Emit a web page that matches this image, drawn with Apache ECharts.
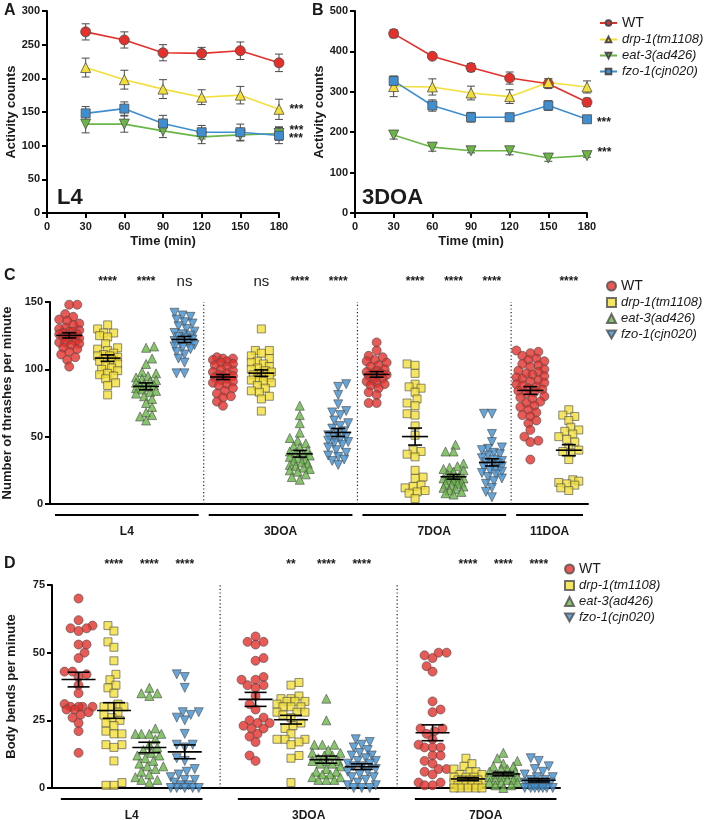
<!DOCTYPE html>
<html>
<head>
<meta charset="utf-8">
<script src="https://cdn.jsdelivr.net/npm/echarts@6.0.0/dist/echarts.min.js"></script>
<style>
  html, body { margin: 0; padding: 0; background: #fff; }
  #chart { width: 708px; height: 820px; }
</style>
</head>
<body>
<div id="chart"></div>
<script>
// ---------- data ----------
const strains = ['WT', 'drp-1(tm1108)', 'eat-3(ad426)', 'fzo-1(cjn020)']
const timeMin = [30, 60, 90, 120, 150, 180]

// A: L4 activity counts (mean, SEM)
const l4Wt = [269, 257, 238, 237, 241, 223]
const l4WtErr = [12, 12, 12, 9, 13, 13]
const l4Drp = [216, 198, 184, 172, 175, 154]
const l4DrpErr = [14, 14, 14, 11, 13, 15]
const l4Eat = [132, 132, 122, 113, 116, 118]
const l4EatErr = [13, 12, 10, 10, 9, 10]
const l4Fzo = [148, 155, 133, 120, 120, 115]
const l4FzoErr = [10, 10, 12, 10, 12, 12]
const l4Stars = ['', '***', '***', '***']

// B: 3DOA activity counts (mean, SEM)
const d3Wt = [444, 388, 360, 334, 320, 274]
const d3WtErr = [10, 6, 10, 15, 12, 10]
const d3Drp = [313, 312, 297, 288, 323, 312]
const d3DrpErr = [25, 20, 17, 17, 9, 15]
const d3Eat = [193, 163, 154, 154, 136, 142]
const d3EatErr = [10, 10, 5, 10, 8, 4]
const d3Fzo = [327, 266, 237, 237, 266, 232]
const d3FzoErr = [12, 14, 12, 10, 12, 5]
const d3Stars = ['', '', '***', '***']

// C: thrashes per minute
const thrL4Wt = [148, 148, 141, 139, 137, 136, 134, 133, 131, 130, 129, 128, 128, 127, 126, 126, 125, 125, 124, 123, 122, 121, 120, 120, 119, 118, 116, 115, 113, 111, 109, 107, 102]
const thrL4Drp = [133, 130, 127, 127, 125, 124, 119, 116, 115, 114, 112, 111, 110, 110, 109, 108, 107, 106, 104, 103, 101, 100, 99, 97, 96, 95, 93, 90, 88, 81]
const thrL4Eat = [117, 116, 108, 104, 98, 97, 95, 94, 93, 92, 91, 90, 89, 88, 88, 87, 86, 85, 84, 83, 82, 80, 78, 75, 72, 68, 66, 65, 62]
const thrL4Fzo = [142, 140, 139, 137, 135, 134, 132, 130, 128, 127, 126, 125, 124, 123, 122, 121, 120, 119, 118, 117, 116, 115, 113, 111, 108, 105, 97, 97]
const thr3Wt = [109, 108, 108, 107, 106, 105, 104, 103, 102, 100, 99, 98, 97, 96, 95, 95, 94, 93, 92, 91, 90, 89, 88, 86, 84, 82, 80, 79, 76, 73]
const thr3Drp = [130, 114, 114, 112, 110, 108, 106, 105, 104, 102, 101, 100, 99, 98, 97, 96, 95, 94, 93, 92, 91, 90, 88, 86, 84, 83, 80, 78, 69]
const thr3Eat = [73, 66, 60, 53, 49, 47, 45, 43, 42, 40, 39, 38, 37, 36, 35, 34, 33, 32, 31, 30, 29, 28, 27, 26, 25, 24, 22, 20, 18]
const thr3Fzo = [89, 87, 81, 74, 69, 68, 66, 62, 60, 58, 56, 54, 52, 51, 50, 49, 48, 47, 46, 45, 44, 42, 40, 38, 36, 35, 33, 32, 29]
const thr7Wt = [120, 114, 110, 109, 107, 106, 105, 103, 102, 100, 99, 98, 97, 97, 96, 95, 94, 93, 92, 91, 90, 89, 88, 86, 83, 81, 75, 75]
const thr7Drp = [104, 103, 97, 89, 87, 86, 83, 78, 75, 73, 67, 66, 58, 51, 40, 39, 37, 35, 25, 20, 19, 14, 13, 12, 10, 9, 8, 4]
const thr7Eat = [44, 39, 39, 30, 28, 27, 26, 25, 24, 22, 21, 20, 20, 19, 19, 18, 18, 17, 16, 15, 15, 14, 13, 12, 11, 10, 9, 8, 7]
const thr7Fzo = [67, 67, 52, 46, 42, 41, 40, 38, 37, 36, 34, 33, 32, 31, 30, 29, 28, 27, 26, 25, 24, 23, 22, 20, 19, 17, 15, 12, 9, 5]
const thr11Wt = [114, 113, 112, 110, 108, 107, 106, 104, 103, 102, 100, 99, 98, 97, 96, 95, 94, 93, 92, 91, 90, 89, 88, 87, 86, 85, 84, 83, 82, 80, 79, 78, 76, 75, 73, 72, 70, 68, 66, 65, 62, 60, 55, 50, 47, 46, 33]
const thr11Drp = [70, 66, 65, 62, 57, 55, 54, 52, 50, 48, 46, 42, 40, 39, 38, 33, 18, 17, 16, 15, 14, 12, 10]
const thrStages = ['L4', '3DOA', '7DOA', '11DOA']
const thrStars = ['', '****', '****', 'ns', '', 'ns', '****', '****', '', '****', '****', '****', '', '****']

// D: body bends per minute
const bendL4Wt = [70, 62, 60, 59, 59, 58, 53, 53, 50, 48, 43, 43, 42, 41, 38, 35, 31, 30, 30, 30, 30, 29, 29, 28, 27, 26, 24, 21, 13]
const bendL4Drp = [60, 58, 54, 52, 47, 42, 40, 38, 37, 35, 31, 30, 30, 30, 28, 27, 26, 25, 24, 23, 21, 20, 20, 16, 16, 15, 10, 2, 1, 1]
const bendL4Eat = [37, 35, 35, 34, 22, 20, 20, 20, 20, 18, 16, 15, 14, 13, 12, 12, 11, 10, 9, 8, 8, 7, 6, 5, 4, 3, 3, 2]
const bendL4Fzo = [42, 41, 37, 28, 28, 27, 26, 25, 20, 16, 16, 15, 11, 10, 7, 6, 5, 4, 3, 3, 2, 1, 1, 0, 0, 0, 0, 0]
const bend3Wt = [56, 54, 54, 53, 48, 47, 41, 40, 40, 38, 38, 37, 34, 31, 29, 26, 25, 24, 24, 23, 22, 22, 20, 19, 17, 12, 10]
const bend3Drp = [39, 38, 34, 33, 33, 32, 32, 32, 31, 30, 30, 30, 28, 28, 28, 27, 26, 24, 23, 22, 20, 18, 18, 18, 17, 16, 12, 11, 2]
const bend3Eat = [33, 25, 16, 16, 16, 14, 13, 13, 12, 12, 11, 10, 10, 10, 9, 9, 8, 7, 6, 6, 5, 5, 4, 4, 3, 3, 3]
const bend3Fzo = [18, 17, 16, 15, 14, 13, 12, 12, 11, 10, 10, 9, 9, 8, 8, 7, 6, 6, 5, 4, 4, 3, 2, 1, 1, 0, 0, 0]
const bend7Wt = [50, 50, 49, 48, 45, 43, 32, 29, 28, 22, 22, 21, 20, 18, 16, 15, 15, 15, 12, 12, 10, 9, 7, 7, 6, 5, 2, 2, 1, 1]
const bend7Drp = [11, 9, 8, 7, 6, 6, 5, 5, 4, 4, 4, 3, 3, 3, 3, 2, 2, 2, 2, 1, 1, 1, 1, 0, 0, 0, 0, 0]
const bend7Eat = [13, 11, 10, 9, 8, 8, 7, 7, 6, 6, 5, 5, 5, 4, 4, 4, 3, 3, 3, 2, 2, 2, 1, 1, 0]
const bend7Fzo = [11, 10, 8, 7, 6, 5, 4, 4, 3, 3, 2, 2, 2, 2, 1, 1, 1, 1, 1, 0, 0, 0, 0, 0, 0, 0]
const bendStages = ['L4', '3DOA', '7DOA']
const bendStars = ['', '****', '****', '****', '', '**', '****', '****', '', '****', '****', '****']

// ---------- styles ----------
const FONT = 'Liberation Sans, Arial, Helvetica, sans-serif'
const INK = '#1a1a1a'
const colors = ['#e4302a', '#f3df38', '#69b646', '#3f8ecf']
const edge = '#4d4d4d'
const downTri = 'path://M0,0 L10,0 L5,9 Z'
const lineSymbols = ['circle', 'triangle', downTri, 'rect']
const dotSymbols = ['circle', 'rect', 'triangle', downTri]

const gA = { left: 47, top: 11, width: 232, height: 202 }
const gB = { left: 355, top: 11, width: 232, height: 202 }
const gC = { left: 50, top: 302, width: 538, height: 202 }
const gD = { left: 52, top: 585, width: 508, height: 203 }
const cRange = [-0.5, 13.5]
const dRange = [-0.75, 13.6]

// ---------- helpers ----------
const mean = a => a.reduce((s, v) => s + v, 0) / a.length
const sem = a => {
  const m = mean(a)
  const sd = Math.sqrt(a.reduce((s, v) => s + (v - m) * (v - m), 0) / (a.length - 1))
  return sd / Math.sqrt(a.length)
}

// simple beeswarm: offsets in px, converted to x-axis units
function swarm (vals, pxY, pxX, dia, maxK) {
  const order = vals.map((v, i) => i).sort((a, b) => vals[a] - vals[b])
  const placed = []
  const xs = new Array(vals.length)
  const step = 2
  order.forEach((i, n) => {
    const y = vals[i] * pxY
    let bestX = 0
    let bestGap = -1
    let done = false
    for (let k = 0; k <= maxK && !done; k++) {
      let cands = k === 0 ? [0] : [k * step, -k * step]
      if (n % 2) cands = cands.reverse()
      for (const c of cands) {
        let gap = Infinity
        placed.forEach(p => { gap = Math.min(gap, Math.hypot(p[0] - c, p[1] - y)) })
        if (gap >= dia) { bestX = c; done = true; break }
        if (gap > bestGap) { bestGap = gap; bestX = c }
      }
    }
    placed.push([bestX, y])
    xs[i] = bestX / pxX
  })
  return xs
}

const axisLine = { show: true, onZero: false, lineStyle: { color: '#000', width: 2 } }
const axisTick = { show: true, length: 5, lineStyle: { color: '#000', width: 2 } }
const tickLabel = { color: INK, fontWeight: 'bold', fontSize: 11, fontFamily: FONT }
const nameStyle = { color: INK, fontWeight: 'bold', fontSize: 13, fontFamily: FONT }

function yAxisOf (grid, max, interval, name, gap) {
  return {
    type: 'value', gridIndex: grid, min: 0, max: max, interval: interval,
    name: name, nameLocation: 'middle', nameGap: gap, nameTextStyle: nameStyle,
    axisLine: axisLine, axisTick: axisTick, axisLabel: Object.assign({ margin: 7 }, tickLabel),
    splitLine: { show: false }
  }
}

// ---------- A / B : line series with error bars ----------
function timeSeries (means, errs, stars, grid, tag) {
  const out = []
  const errData = []
  means.forEach((m, k) => {
    m.forEach((v, i) => errData.push([timeMin[i], v - errs[k][i], v + errs[k][i]]))
  })
  out.push({
    type: 'custom', xAxisIndex: grid, yAxisIndex: grid, silent: true, z: 2,
    data: errData,
    renderItem: (params, api) => {
      const top = api.coord([api.value(0), api.value(2)])
      const bot = api.coord([api.value(0), api.value(1)])
      const st = { stroke: '#4a4a4a', lineWidth: 1 }
      return {
        type: 'group',
        children: [
          { type: 'line', shape: { x1: top[0], y1: top[1], x2: bot[0], y2: bot[1] }, style: st },
          { type: 'line', shape: { x1: top[0] - 4, y1: top[1], x2: top[0] + 4, y2: top[1] }, style: st },
          { type: 'line', shape: { x1: bot[0] - 4, y1: bot[1], x2: bot[0] + 4, y2: bot[1] }, style: st }
        ]
      }
    }
  })
  means.forEach((m, k) => {
    const offs = [[0, 0], [0, 0], [0, -3], [0, 3]]
    out.push({
      name: strains[k] + tag, type: 'line', xAxisIndex: grid, yAxisIndex: grid, z: 3,
      data: m.map((v, i) => [timeMin[i], v]),
      symbol: lineSymbols[k], symbolSize: k === 3 ? 9 : 10, showAllSymbol: true,
      lineStyle: { color: colors[k], width: 1.6 },
      itemStyle: { color: colors[k], borderColor: edge, borderWidth: 0.8 },
      label: {
        show: true, position: 'right', distance: 5, offset: offs[k],
        color: INK, fontSize: 12, fontWeight: 'bold', fontFamily: FONT,
        formatter: p => (p.dataIndex === m.length - 1 ? stars[k] : '')
      },
      emphasis: { disabled: true }
    })
  })
  return out
}

// ---------- C / D : dot plots ----------
function dotPanel (groups, strainOf, slots, stages, stageSizes, stars, grid, tag, g, range, yMax, starY, pad, halfW, capW, spread) {
  const pxY = g.height / yMax
  const pxX = g.width / (range[1] - range[0])
  const out = []
  const dots = strains.map((s, k) => ({
    name: s + tag, type: 'scatter', xAxisIndex: grid, yAxisIndex: grid, z: 3,
    symbol: dotSymbols[k], symbolSize: k === 1 ? 8 : 9,
    itemStyle: { color: colors[k], borderColor: edge, borderWidth: 0.8 },
    emphasis: { disabled: true },
    data: []
  }))
  groups.forEach((vals, gi) => {
    const dx = swarm(vals, pxY, pxX, 7, vals.length > 40 ? spread + 2 : spread)
    vals.forEach((v, i) => dots[strainOf[gi]].data.push([slots[gi] + dx[i], v]))
  })
  // dotted dividers between stages
  const bounds = []
  const spans = []
  let start = 0
  stageSizes.forEach((n, si) => {
    spans.push([slots[start], slots[start + n - 1]])
    if (si > 0) bounds.push([(slots[start - 1] + slots[start]) / 2])
    start += n
  })
  out.push({
    type: 'custom', xAxisIndex: grid, yAxisIndex: grid, silent: true, z: 1,
    data: bounds,
    renderItem: (params, api) => {
      const a = api.coord([api.value(0), 0])
      const b = api.coord([api.value(0), yMax])
      return { type: 'line', shape: { x1: a[0], y1: a[1], x2: b[0], y2: b[1] },
        style: { stroke: '#222', lineWidth: 1.2, lineDash: [1.2, 2.4] } }
    }
  })
  out.push(...dots)
  // mean +/- SEM
  out.push({
    type: 'custom', xAxisIndex: grid, yAxisIndex: grid, silent: true, z: 4,
    data: groups.map((vals, gi) => [slots[gi], mean(vals), sem(vals)]),
    renderItem: (params, api) => {
      const x = api.value(0); const m = api.value(1); const e = api.value(2)
      const pm = api.coord([x, m]); const pt = api.coord([x, m + e]); const pb = api.coord([x, m - e])
      const st = { stroke: '#000', lineWidth: 1.6 }
      return {
        type: 'group',
        children: [
          { type: 'line', shape: { x1: pm[0] - halfW, y1: pm[1], x2: pm[0] + halfW, y2: pm[1] }, style: st },
          { type: 'line', shape: { x1: pt[0], y1: pt[1], x2: pb[0], y2: pb[1] }, style: st },
          { type: 'line', shape: { x1: pt[0] - capW, y1: pt[1], x2: pt[0] + capW, y2: pt[1] }, style: st },
          { type: 'line', shape: { x1: pb[0] - capW, y1: pb[1], x2: pb[0] + capW, y2: pb[1] }, style: st }
        ]
      }
    }
  })
  // significance marks above each column
  out.push({
    type: 'custom', xAxisIndex: grid, yAxisIndex: grid, silent: true, z: 4,
    data: slots.map(s => [s, starY]),
    renderItem: (params, api) => {
      const p = api.coord([api.value(0), api.value(1)])
      const txt = stars[params.dataIndex]
      return { type: 'text', x: p[0], y: p[1],
        style: { text: txt, align: 'center', verticalAlign: 'middle', fill: INK,
          fontSize: txt === 'ns' ? 15 : 12, fontWeight: txt === 'ns' ? 'normal' : 'bold', fontFamily: FONT } }
    }
  })
  // stage bars + labels under the axis
  out.push({
    type: 'custom', xAxisIndex: grid, yAxisIndex: grid, silent: true, z: 4,
    data: spans,
    renderItem: (params, api) => {
      const a = api.coord([api.value(0) - pad, 0])
      const b = api.coord([api.value(1) + pad, 0])
      return {
        type: 'group',
        children: [
          { type: 'line', shape: { x1: a[0], y1: a[1] + 11, x2: b[0], y2: b[1] + 11 }, style: { stroke: '#000', lineWidth: 2 } },
          { type: 'text', x: (a[0] + b[0]) / 2, y: a[1] + 28,
            style: { text: stages[params.dataIndex], align: 'center', verticalAlign: 'middle', fill: INK,
              fontSize: 12, fontWeight: 'bold', fontFamily: FONT } }
        ]
      }
    }
  })
  return out
}

const thrGroups = [thrL4Wt, thrL4Drp, thrL4Eat, thrL4Fzo, thr3Wt, thr3Drp, thr3Eat, thr3Fzo, thr7Wt, thr7Drp, thr7Eat, thr7Fzo, thr11Wt, thr11Drp]
const thrStrain = [0, 1, 2, 3, 0, 1, 2, 3, 0, 1, 2, 3, 0, 1]
const thrSlots = thrGroups.map((g, i) => i)
const bendGroups = [bendL4Wt, bendL4Drp, bendL4Eat, bendL4Fzo, bend3Wt, bend3Drp, bend3Eat, bend3Fzo, bend7Wt, bend7Drp, bend7Eat, bend7Fzo]
const bendStrain = [0, 1, 2, 3, 0, 1, 2, 3, 0, 1, 2, 3]
const bendSlots = [0, 1, 2, 3, 5, 6, 7, 8, 10, 11, 12, 13]

const legendName = n => {
  const s = n.split('#')[0]
  return s === 'WT' ? '{n|' + s + '}' : '{i|' + s + '}'
}
const legendText = {
  color: INK, fontFamily: FONT, fontSize: 13,
  rich: { n: { fontSize: 14, fontFamily: FONT, color: INK }, i: { fontStyle: 'italic', fontSize: 13, fontFamily: FONT, color: INK } }
}
function legendOf (tag, left, top, w, h) {
  return {
    data: strains.map(s => s + tag), orient: 'vertical', left: left, top: top,
    itemWidth: w, itemHeight: h, itemGap: 3, padding: 0, selectedMode: false,
    formatter: legendName, textStyle: legendText
  }
}

const letter = (t, left, top, size) => ({
  text: t, left: left, top: top, padding: 0,
  textStyle: { fontSize: size || 16, fontWeight: 'bold', color: INK, fontFamily: FONT }
})

const chart = echarts.init(document.getElementById('chart'))
chart.setOption({
  animation: false,
  backgroundColor: '#fff',
  textStyle: { fontFamily: FONT },
  title: [
    letter('A', 4, 3), letter('B', 312, 3), letter('C', 4, 268), letter('D', 4, 556),
    letter('L4', 57, 187, 22), letter('3DOA', 362, 187, 22)
  ],
  legend: [legendOf('#B', 599, 16, 17, 7), legendOf('#C', 606, 279, 9, 9), legendOf('#D', 564, 562, 9, 9)],
  grid: [gA, gB, gC, gD].map(g => Object.assign({ containLabel: false, outerBoundsMode: 'none' }, g)),
  xAxis: [
    { type: 'value', gridIndex: 0, min: 0, max: 180, interval: 30, name: 'Time (min)', nameLocation: 'middle', nameGap: 22,
      nameTextStyle: nameStyle, axisLine: axisLine, axisTick: axisTick, axisLabel: Object.assign({ margin: 8 }, tickLabel), splitLine: { show: false } },
    { type: 'value', gridIndex: 1, min: 0, max: 180, interval: 30, name: 'Time (min)', nameLocation: 'middle', nameGap: 22,
      nameTextStyle: nameStyle, axisLine: axisLine, axisTick: axisTick, axisLabel: Object.assign({ margin: 8 }, tickLabel), splitLine: { show: false } },
    { type: 'value', gridIndex: 2, min: cRange[0], max: cRange[1], axisLine: axisLine, axisTick: { show: false },
      axisLabel: { show: false }, splitLine: { show: false } },
    { type: 'value', gridIndex: 3, min: dRange[0], max: dRange[1], axisLine: axisLine, axisTick: { show: false },
      axisLabel: { show: false }, splitLine: { show: false } }
  ],
  yAxis: [
    yAxisOf(0, 300, 50, 'Activity counts', 24),
    yAxisOf(1, 500, 100, 'Activity counts', 28),
    yAxisOf(2, 150, 50, 'Number of thrashes per minute', 34),
    yAxisOf(3, 75, 25, 'Body bends per minute', 34)
  ],
  series: [
    ...timeSeries([l4Wt, l4Drp, l4Eat, l4Fzo], [l4WtErr, l4DrpErr, l4EatErr, l4FzoErr], l4Stars, 0, '#A'),
    ...timeSeries([d3Wt, d3Drp, d3Eat, d3Fzo], [d3WtErr, d3DrpErr, d3EatErr, d3FzoErr], d3Stars, 1, '#B'),
    ...dotPanel(thrGroups, thrStrain, thrSlots, thrStages, [4, 4, 4, 2], thrStars, 2, '#C', gC, cRange, 150, 165, 0.37, 13, 7, 5),
    ...dotPanel(bendGroups, bendStrain, bendSlots, bendStages, [4, 4, 4], bendStars, 3, '#D', gD, dRange, 75, 82.4, 0.5, 17, 11, 7)
  ]
})
</script>
</body>
</html>
